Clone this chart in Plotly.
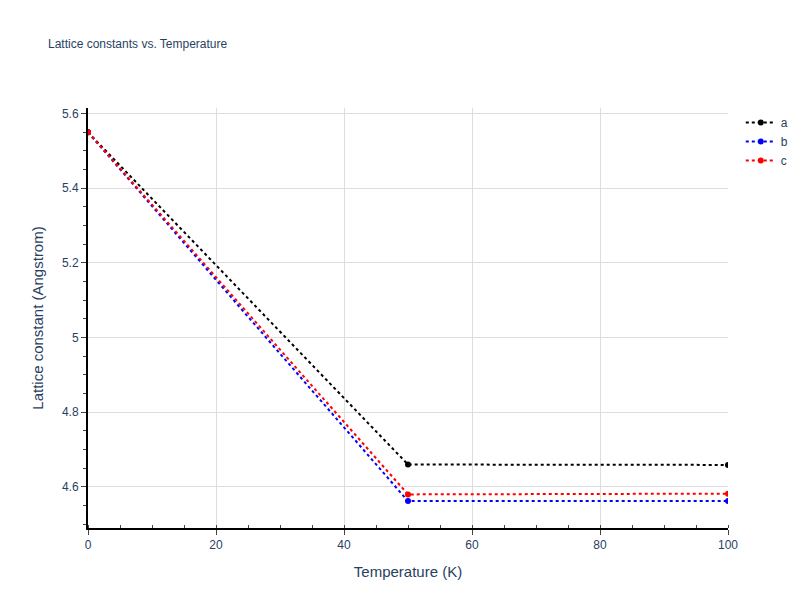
import plotly.graph_objects as go

temps = [0, 50, 100]
a_vals = [5.55, 4.66, 4.659]
b_vals = [5.55, 4.562, 4.562]
c_vals = [5.55, 4.58, 4.582]
names = ["a", "b", "c"]
colors = ["black", "blue", "red"]

fig = go.Figure()
for n, v, col in zip(names, [a_vals, b_vals, c_vals], colors):
    fig.add_trace(go.Scatter(x=temps, y=v, name=n, mode="lines+markers",
                             line=dict(color=col, dash="dot", width=2),
                             marker=dict(color=col, size=6)))

axis_common = dict(showline=True, linecolor="black", linewidth=2, gridcolor="#dddddd",
                   ticks="outside", tickcolor="#444", zeroline=False, automargin=False,
                   title_font=dict(size=15), tickfont=dict(size=12))
fig.update_layout(
    template="plotly_white",
    width=800, height=600,
    font=dict(family="Arial, Liberation Sans"),
    title=dict(text="Lattice constants vs. Temperature", font=dict(size=12), x=0.05, y=0.94, yanchor="middle"),
    xaxis=dict(title="Temperature (K)", range=[0, 100], minor=dict(ticks="inside", nticks=5, tickcolor="#444"), **axis_common),
    yaxis=dict(title="Lattice constant (Angstrom)", range=[4.49, 5.615], minor=dict(ticks="outside", nticks=5, tickcolor="#444"), **axis_common),
    margin=dict(l=80, r=80, t=100, b=80),
)
fig.write_html("out.html")
